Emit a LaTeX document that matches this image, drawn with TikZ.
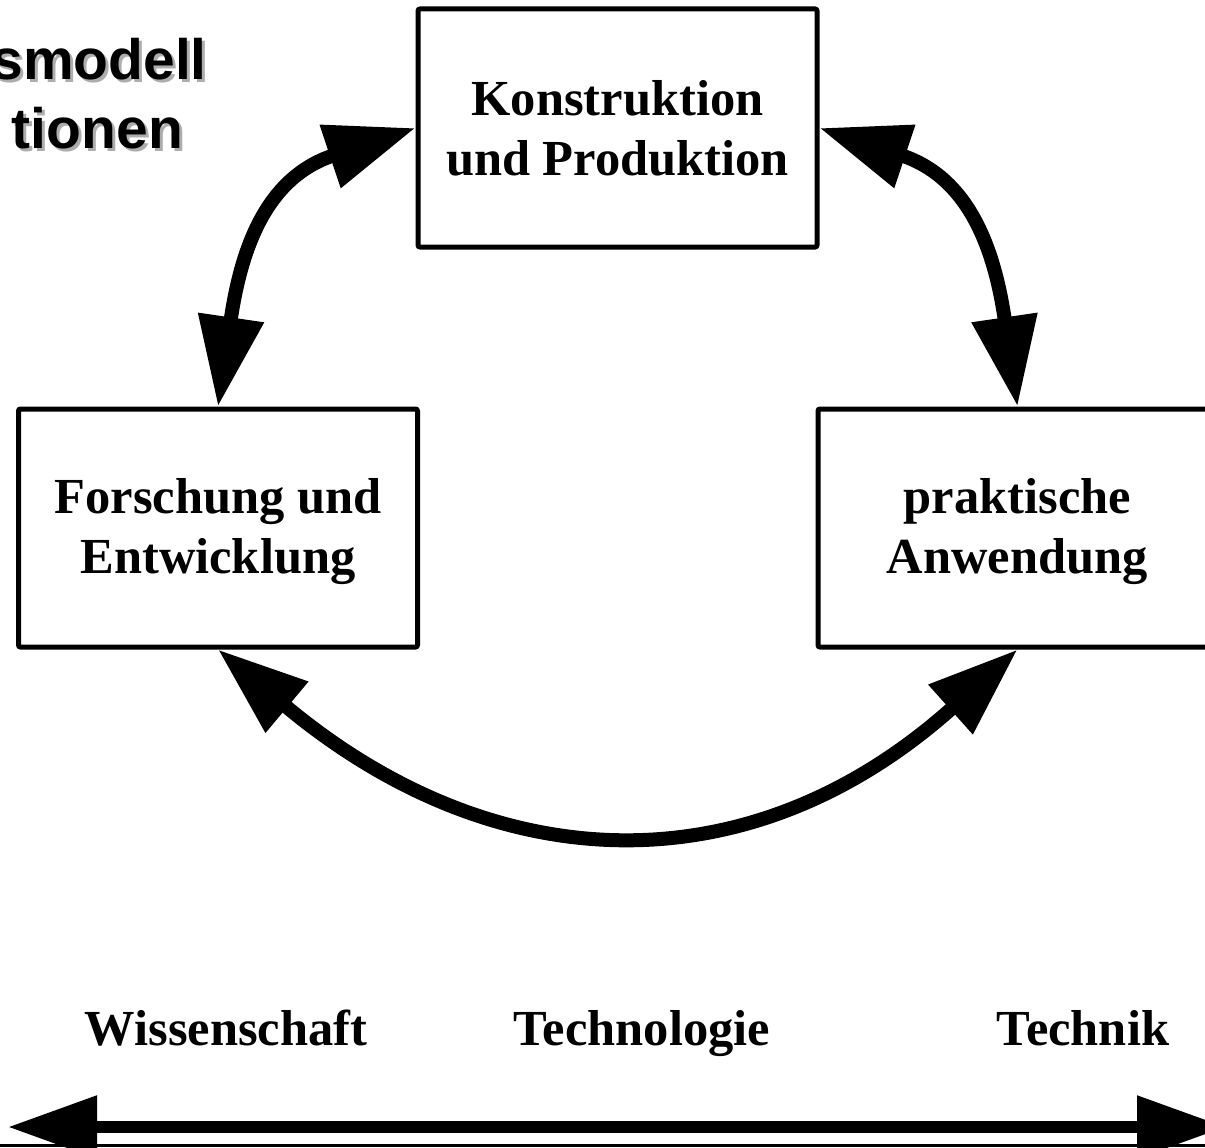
\documentclass[tikz,border=0pt]{standalone}
\usepackage{fontspec}
\setmainfont{Liberation Serif}
\newfontfamily\headfont{Liberation Sans}
\usetikzlibrary{arrows.meta}
\newcommand{\shadowed}[1]{\rlap{\hspace{3pt}\raisebox{-3pt}{\textcolor{black!32}{#1}}}#1}
\newcommand{\tallline}{\rule{0pt}{42pt}}
\begin{document}
\begin{tikzpicture}[x=1pt,y=-1pt,
  stage/.style={draw, line width=5pt, rounded corners=2pt, minimum width=399pt,
    minimum height=238pt, inner sep=0pt, align=center,
    font=\fontsize{50.5}{60}\selectfont\bfseries},
  flow/.style={line width=14pt,
    {Triangle[length=90pt,width=63pt]}-{Triangle[length=90pt,width=63pt]}},
  axis/.style={line width=12pt,
    {Triangle[length=89pt,width=60pt]}-{Triangle[length=89pt,width=60pt]}},
  field/.style={anchor=base, inner sep=0pt, font=\fontsize{50.5}{60}\selectfont\bfseries},
  heading/.style={anchor=base east, inner sep=0pt,
    font=\headfont\fontsize{57}{68}\selectfont\bfseries},
]
\useasboundingbox (0,0) rectangle (1205,1148);

% title fragment with drop shadow
\node[heading] (t1) at (207,80) {\shadowed{smodell}};
\node[heading] (t2) at (183,148) {\shadowed{tionen}};

% the three stages
\node[stage] (kp) at (617.5,128) {Konstruktion\\und Produktion};
\node[stage] (fe) at (218,528) {\tallline Forschung und\\Entwicklung};
\node[stage] (pa) at (1017.5,528) {\tallline praktische\\Anwendung};

% cycle of interactions
\draw[flow] (kp.west) .. controls +(-150,50) and +(23,-157) .. (fe.north);
\draw[flow] (kp.east) .. controls +(150,50) and +(-23,-157) .. (pa.north);
\draw[flow] (fe.south) .. controls +(276,231) and +(-268,240) .. (pa.south);

% scale from science to engineering
\node[field] (ws) at (226,1045) {Wissenschaft};
\node[field] (tl) at (642,1045) {Technologie};
\node[field] (tk) at (1083,1045) {Technik};

\coordinate (axl) at (8,1127);
\coordinate (axr) at (1226,1127);
\draw[axis] (axl) -- (axr);

\coordinate (bl) at (0,1145.5);
\coordinate (br) at (1205,1145.5);
\draw[line width=3pt] (bl) -- (br);
\end{tikzpicture}
\end{document}
